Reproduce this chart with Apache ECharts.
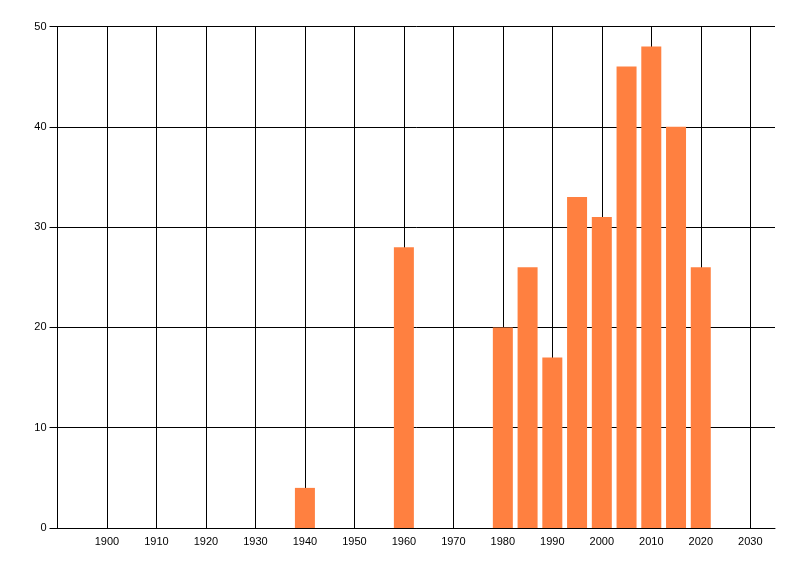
<!DOCTYPE html>
<html>
<head>
<meta charset="utf-8">
<script src="https://cdn.jsdelivr.net/npm/echarts@6/dist/echarts.min.js"></script>
<style>
  html, body { margin: 0; padding: 0; background: #fff; }
  #main { width: 800px; height: 576px; }
</style>
</head>
<body>
<div id="main"></div>
<script>
// 数据：年份和对应数值
var years = [1940, 1960, 1980, 1985, 1990, 1995, 2000, 2005, 2010, 2015, 2020]
var counts = [4, 28, 20, 26, 17, 33, 31, 46, 48, 40, 26]
// x轴刻度（竖向网格线）
var xTicks = [1900, 1910, 1920, 1930, 1940, 1950, 1960, 1970, 1980, 1990, 2000, 2010, 2020, 2030]

var myChart = echarts.init(document.getElementById('main'))

var labelFont = { color: '#000', fontFamily: 'Liberation Sans', fontSize: 11 }

var option = {
  animation: false,
  grid: { left: 57.5, right: 25, top: 26.5, bottom: 48 },
  xAxis: {
    type: 'value',
    min: 1890,
    max: 2035,
    interval: 10,
    axisLine: { show: true, lineStyle: { color: '#000', width: 1 } },
    axisTick: { show: false },
    axisLabel: Object.assign({
      margin: 8,
      showMinLabel: false,
      showMaxLabel: false,
      formatter: function (v) { return xTicks.indexOf(v) >= 0 ? String(v) : '' }
    }, labelFont),
    splitLine: { show: false }
  },
  yAxis: {
    type: 'value',
    min: 0,
    max: 50,
    interval: 10,
    axisLine: { show: true, lineStyle: { color: '#000', width: 1 } },
    axisTick: { show: true, length: 8, lineStyle: { color: '#000' } },
    axisLabel: Object.assign({ margin: 11 }, labelFont),
    splitLine: { show: true, lineStyle: { color: '#000', width: 1 } }
  },
  series: [
    {
      // 竖向网格线，画在柱子下面
      type: 'line',
      data: [],
      z: 1,
      markLine: {
        z: 1,
        silent: true,
        symbol: 'none',
        label: { show: false },
        lineStyle: { color: '#000', width: 1, type: 'solid' },
        data: xTicks.map(function (t) { return { xAxis: t } })
      }
    },
    {
      type: 'bar',
      z: 3,
      barWidth: 20,
      itemStyle: { color: '#FF8040' },
      data: years.map(function (y, i) { return [y, counts[i]] })
    }
  ]
}

myChart.setOption(option)
</script>
</body>
</html>
